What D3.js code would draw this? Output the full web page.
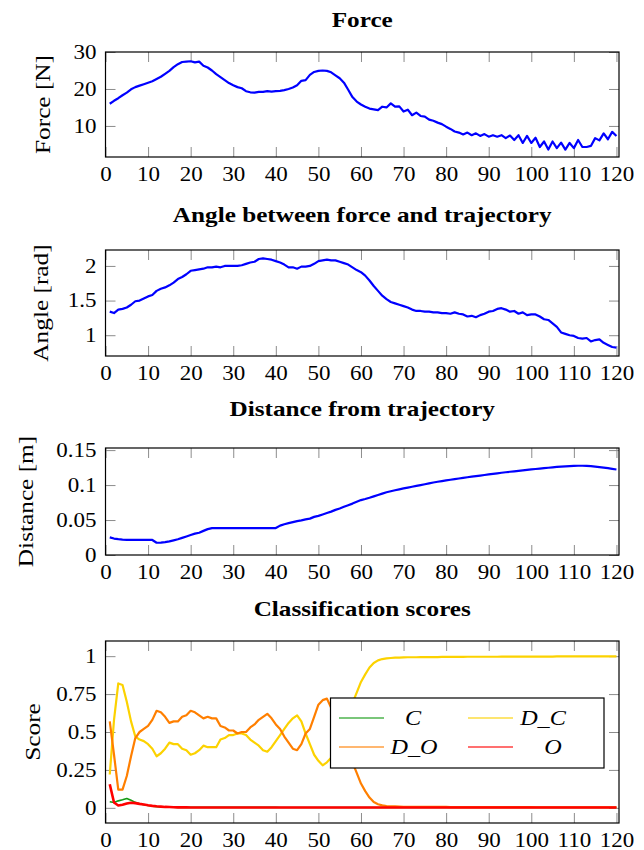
<!DOCTYPE html>
<html>
<head>
<meta charset="utf-8">
<script src="https://cdn.jsdelivr.net/npm/d3@7"></script>
<style>
  body { margin: 0; background: #fff; }
  svg text { font-family: "Liberation Serif", "Times New Roman", serif; fill: #000; }
</style>
</head>
<body>
<svg id="chart" width="644" height="850"></svg>
<script>
'use strict';

// time steps 1..120
var steps = d3.range(1, 121);
var xTicks = [0, 10, 20, 30, 40, 50, 60, 70, 80, 90, 100, 110, 120];

var forceTicks = [10, 20, 30];
var angleTicks = [1, 1.5, 2];
var distTicks = [0, 0.05, 0.1, 0.15];
var scoreTicks = [0, 0.25, 0.5, 0.75, 1];

var force = [
  16.0, 16.8, 17.5, 18.3, 19.0, 19.9, 20.5, 20.9, 21.3, 21.7,
  22.1, 22.7, 23.3, 24.1, 24.9, 25.9, 26.7, 27.3, 27.4, 27.5,
  27.2, 27.4, 26.3, 25.8, 25.0, 24.0, 23.2, 22.4, 21.6, 21.0,
  20.5, 20.2, 19.4, 19.1, 19.0, 19.2, 19.2, 19.4, 19.3, 19.4,
  19.5, 19.7, 20.0, 20.4, 21.0, 22.2, 22.4, 23.8, 24.6, 24.9,
  25.0, 24.9, 24.5, 23.7, 22.9, 21.7, 19.8, 17.8, 16.6, 15.8,
  15.2, 14.7, 14.5, 14.3, 15.2, 15.0, 16.1, 15.2, 15.3, 13.9,
  14.4, 12.9, 13.6, 12.7, 12.5, 11.7, 11.4, 10.9, 10.5, 9.8,
  9.2, 8.5, 8.2, 7.7, 8.2, 7.5, 8.0, 7.3, 7.8, 7.1,
  7.5, 7.1, 7.5, 6.7, 7.4, 6.2, 7.5, 5.4, 7.3, 5.4,
  6.8, 4.3, 5.8, 3.6, 5.8, 4.0, 5.5, 3.6, 5.4, 4.0,
  6.2, 4.3, 4.3, 4.6, 6.7, 6.1, 8.0, 6.4, 8.4, 7.3
];

var angle = [
  1.34, 1.32, 1.37, 1.38, 1.40, 1.44, 1.49, 1.50, 1.53, 1.56,
  1.58, 1.64, 1.67, 1.69, 1.72, 1.76, 1.81, 1.84, 1.88, 1.93,
  1.94, 1.95, 1.96, 1.98, 1.98, 1.99, 1.98, 2.00, 2.00, 2.00,
  2.00, 2.01, 2.03, 2.05, 2.06, 2.10, 2.11, 2.10, 2.09, 2.07,
  2.05, 2.02, 1.98, 1.98, 1.96, 1.99, 1.99, 2.00, 2.03, 2.07,
  2.08, 2.09, 2.08, 2.08, 2.06, 2.04, 2.02, 1.98, 1.94, 1.91,
  1.86, 1.79, 1.71, 1.64, 1.57, 1.52, 1.48, 1.46, 1.44, 1.42,
  1.40, 1.37, 1.35, 1.35, 1.34, 1.34, 1.33, 1.33, 1.32, 1.32,
  1.31, 1.33, 1.31, 1.30, 1.27, 1.28, 1.26, 1.29, 1.31, 1.34,
  1.35, 1.38, 1.39, 1.37, 1.34, 1.35, 1.31, 1.33, 1.29, 1.30,
  1.30, 1.27, 1.23, 1.22, 1.17, 1.12, 1.04, 1.02, 1.00, 0.99,
  0.96, 0.95, 0.96, 0.91, 0.93, 0.94, 0.89, 0.86, 0.83, 0.82
];

var distance = [
  0.0252, 0.0235, 0.0226, 0.0220, 0.0216, 0.0216, 0.0216, 0.0216, 0.0216, 0.0216,
  0.0215, 0.0175, 0.0178, 0.0185, 0.0195, 0.0210, 0.0225, 0.0245, 0.0265, 0.0285,
  0.0305, 0.0318, 0.0345, 0.0370, 0.0385, 0.0385, 0.0385, 0.0385, 0.0385, 0.0385,
  0.0385, 0.0385, 0.0385, 0.0385, 0.0385, 0.0385, 0.0385, 0.0385, 0.0385, 0.0385,
  0.0420, 0.0440, 0.0455, 0.0470, 0.0485, 0.0495, 0.0510, 0.0520, 0.0545, 0.0560,
  0.0580, 0.0600, 0.0620, 0.0645, 0.0665, 0.0690, 0.0712, 0.0735, 0.0760, 0.0785,
  0.0800, 0.0818, 0.0838, 0.0858, 0.0878, 0.0897, 0.0912, 0.0926, 0.0939, 0.0952,
  0.0964, 0.0976, 0.0988, 0.1000, 0.1012, 0.1024, 0.1037, 0.1047, 0.1057, 0.1066,
  0.1076, 0.1085, 0.1094, 0.1103, 0.1112, 0.1120, 0.1128, 0.1136, 0.1144, 0.1152,
  0.1160, 0.1168, 0.1176, 0.1183, 0.1190, 0.1197, 0.1204, 0.1211, 0.1218, 0.1224,
  0.1230, 0.1236, 0.1242, 0.1248, 0.1254, 0.1259, 0.1264, 0.1268, 0.1272, 0.1275,
  0.1276, 0.1276, 0.1274, 0.1270, 0.1264, 0.1257, 0.1249, 0.1241, 0.1232, 0.1223
];

var scoreC = [
  0.040, 0.035, 0.046, 0.053, 0.062, 0.050, 0.036, 0.027, 0.020, 0.015,
  0.011, 0.008, 0.006, 0.005, 0.004, 0.004, 0.003, 0.003, 0.003, 0.003,
  0.003, 0.003, 0.003, 0.003, 0.003, 0.003, 0.003, 0.003, 0.003, 0.003,
  0.003, 0.003, 0.003, 0.003, 0.003, 0.003, 0.003, 0.003, 0.003, 0.003,
  0.002, 0.002, 0.002, 0.002, 0.002, 0.002, 0.002, 0.002, 0.002, 0.002,
  0.002, 0.002, 0.002, 0.002, 0.002, 0.002, 0.002, 0.002, 0.002, 0.002,
  0.002, 0.002, 0.002, 0.002, 0.002, 0.002, 0.002, 0.002, 0.002, 0.002,
  0.002, 0.002, 0.002, 0.002, 0.002, 0.002, 0.002, 0.002, 0.002, 0.002,
  0.002, 0.002, 0.002, 0.002, 0.002, 0.002, 0.002, 0.002, 0.002, 0.002,
  0.002, 0.002, 0.002, 0.002, 0.002, 0.002, 0.002, 0.002, 0.002, 0.002,
  0.002, 0.002, 0.002, 0.002, 0.002, 0.002, 0.002, 0.002, 0.002, 0.002,
  0.002, 0.002, 0.002, 0.002, 0.002, 0.002, 0.002, 0.002, 0.002, 0.002
];

var scoreDC = [
  0.22, 0.58, 0.82, 0.81, 0.70, 0.57, 0.47, 0.45, 0.44, 0.42,
  0.39, 0.34, 0.36, 0.39, 0.43, 0.42, 0.42, 0.39, 0.38, 0.35,
  0.36, 0.38, 0.41, 0.40, 0.40, 0.40, 0.45, 0.46, 0.48, 0.48,
  0.49, 0.49, 0.48, 0.45, 0.43, 0.41, 0.38, 0.37, 0.40, 0.44,
  0.48, 0.52, 0.56, 0.59, 0.61, 0.57, 0.49, 0.42, 0.35, 0.31,
  0.28, 0.30, 0.33, 0.38, 0.45, 0.53, 0.61, 0.69, 0.76, 0.83,
  0.88, 0.925, 0.955, 0.972, 0.981, 0.985, 0.988, 0.990, 0.991, 0.992,
  0.993, 0.993, 0.993, 0.994, 0.994, 0.994, 0.994, 0.994, 0.995, 0.995,
  0.995, 0.995, 0.995, 0.995, 0.996, 0.996, 0.996, 0.996, 0.996, 0.996,
  0.996, 0.996, 0.997, 0.997, 0.997, 0.997, 0.997, 0.997, 0.997, 0.997,
  0.997, 0.997, 0.997, 0.997, 0.997, 0.998, 0.998, 0.998, 0.998, 0.998,
  0.998, 0.998, 0.998, 0.998, 0.998, 0.998, 0.998, 0.998, 0.998, 0.998
];

var scoreDO = [
  0.57, 0.35, 0.12, 0.12, 0.21, 0.34, 0.46, 0.50, 0.52, 0.54,
  0.58, 0.64, 0.63, 0.60, 0.56, 0.57, 0.57, 0.60, 0.61, 0.64,
  0.63, 0.61, 0.59, 0.60, 0.59, 0.59, 0.54, 0.53, 0.51, 0.51,
  0.49, 0.50, 0.50, 0.53, 0.55, 0.58, 0.60, 0.62, 0.59, 0.55,
  0.52, 0.47, 0.43, 0.39, 0.38, 0.42, 0.49, 0.52, 0.60, 0.68,
  0.71, 0.72, 0.66, 0.61, 0.54, 0.46, 0.38, 0.30, 0.23, 0.16,
  0.11, 0.068, 0.038, 0.024, 0.016, 0.012, 0.010, 0.009, 0.008, 0.007,
  0.006, 0.006, 0.006, 0.006, 0.006, 0.006, 0.006, 0.006, 0.006, 0.006,
  0.005, 0.005, 0.005, 0.005, 0.005, 0.005, 0.005, 0.005, 0.005, 0.005,
  0.005, 0.005, 0.005, 0.005, 0.005, 0.005, 0.005, 0.005, 0.005, 0.005,
  0.004, 0.004, 0.004, 0.004, 0.004, 0.004, 0.004, 0.004, 0.004, 0.004,
  0.004, 0.004, 0.004, 0.004, 0.004, 0.004, 0.004, 0.004, 0.004, 0.004
];

var scoreO = [
  0.155, 0.035, 0.015, 0.020, 0.028, 0.034, 0.031, 0.026, 0.022, 0.017,
  0.013, 0.010, 0.008, 0.006, 0.005, 0.004, 0.003, 0.003, 0.003, 0.002,
  0.002, 0.002, 0.002, 0.002, 0.002, 0.002, 0.002, 0.002, 0.002, 0.002,
  0.002, 0.002, 0.002, 0.002, 0.002, 0.002, 0.002, 0.002, 0.002, 0.002,
  0.002, 0.002, 0.002, 0.002, 0.002, 0.002, 0.002, 0.002, 0.002, 0.002,
  0.002, 0.002, 0.002, 0.002, 0.002, 0.002, 0.002, 0.002, 0.002, 0.002,
  0.002, 0.002, 0.002, 0.002, 0.002, 0.002, 0.002, 0.002, 0.002, 0.002,
  0.002, 0.002, 0.002, 0.002, 0.002, 0.002, 0.002, 0.002, 0.002, 0.002,
  0.002, 0.002, 0.002, 0.002, 0.002, 0.002, 0.002, 0.002, 0.002, 0.002,
  0.002, 0.002, 0.002, 0.002, 0.002, 0.002, 0.002, 0.002, 0.002, 0.002,
  0.002, 0.002, 0.002, 0.002, 0.002, 0.002, 0.002, 0.002, 0.002, 0.002,
  0.002, 0.002, 0.002, 0.002, 0.002, 0.002, 0.002, 0.002, 0.002, 0.002
];

var seriesNames = ["C", "D_C", "D_O", "O"];
var seriesColors = ["#139a13", "#fcd200", "#ff7f00", "#ff0000"];
var seriesValues = [scoreC, scoreDC, scoreDO, scoreO];

// ---- layout ----
var L = 105.5, R = 619;
var svg = d3.select("#chart");
var x = d3.scaleLinear().domain([0, 120.6]).range([L, R]);

// widen the Times-like glyphs toward the Computer Modern look of the original
function stretch(sel, k) {
  sel.each(function () {
    var w = this.getComputedTextLength();
    d3.select(this).attr("textLength", w * k).attr("lengthAdjust", "spacingAndGlyphs");
  });
}

function drawPanel(p) {
  var y = d3.scaleLinear().domain(p.domain).range([p.bottom, p.top]);
  var g = svg.append("g");

  g.append("g").attr("transform", "translate(0," + p.bottom + ")")
    .call(d3.axisBottom(x).tickValues(xTicks).tickSizeInner(-10).tickSizeOuter(0).tickPadding(10));
  g.append("g").attr("transform", "translate(0," + p.top + ")")
    .call(d3.axisTop(x).tickValues(xTicks).tickFormat("").tickSizeInner(-10).tickSizeOuter(0));
  g.append("g").attr("transform", "translate(" + L + ",0)")
    .call(d3.axisLeft(y).tickValues(p.ticks).tickFormat(function (d) { return String(d); })
      .tickSizeInner(-10).tickSizeOuter(0).tickPadding(9));
  g.append("g").attr("transform", "translate(" + R + ",0)")
    .call(d3.axisRight(y).tickValues(p.ticks).tickFormat("").tickSizeInner(-10).tickSizeOuter(0));

  g.selectAll(".domain").remove();
  g.selectAll(".tick line").attr("stroke", "#8c8c8c").attr("stroke-width", 1);
  g.selectAll(".tick text")
    .attr("font-family", "Liberation Serif, serif")
    .attr("font-size", 20)
    .call(stretch, 1.15);

  var line = d3.line()
    .x(function (d, i) { return x(steps[i]); })
    .y(function (d) { return y(d); });

  p.series.forEach(function (s) {
    g.append("path")
      .datum(s.values)
      .attr("d", line)
      .attr("fill", "none")
      .attr("stroke", s.color)
      .attr("stroke-width", s.width)
      .attr("stroke-linejoin", "round");
  });

  g.append("rect")
    .attr("x", L).attr("y", p.top)
    .attr("width", R - L).attr("height", p.bottom - p.top)
    .attr("fill", "none").attr("stroke", "#000").attr("stroke-width", 1.2);

  g.append("text")
    .attr("x", (L + R) / 2).attr("y", p.titleY)
    .attr("text-anchor", "middle")
    .attr("font-weight", "bold")
    .attr("font-size", 21)
    .text(p.title)
    .call(stretch, 1.2);

  g.append("text")
    .attr("transform", "translate(" + p.labelX + "," + ((p.top + p.bottom) / 2) + ") rotate(-90)")
    .attr("text-anchor", "middle")
    .attr("font-size", 22)
    .text(p.ylabel)
    .call(stretch, 1.15);

  return { g: g, y: y };
}

drawPanel({
  title: "Force", ylabel: "Force [N]", domain: [1.6, 30], ticks: forceTicks,
  top: 52, bottom: 157, titleY: 27, labelX: 50,
  series: [{ values: force, color: "#0000ff", width: 2.2 }]
});

drawPanel({
  title: "Angle between force and trajectory", ylabel: "Angle [rad]", domain: [0.70, 2.23], ticks: angleTicks,
  top: 250, bottom: 356, titleY: 222, labelX: 48,
  series: [{ values: angle, color: "#0000ff", width: 2.2 }]
});

drawPanel({
  title: "Distance from trajectory", ylabel: "Distance [m]", domain: [0, 0.153], ticks: distTicks,
  top: 448, bottom: 555, titleY: 416, labelX: 33,
  series: [{ values: distance, color: "#0000ff", width: 2.2 }]
});

var scorePanel = drawPanel({
  title: "Classification scores", ylabel: "Score", domain: [-0.1, 1.1], ticks: scoreTicks,
  top: 641, bottom: 823, titleY: 616, labelX: 40,
  series: seriesValues.map(function (v, i) {
    return { values: v, color: seriesColors[i], width: i === 0 ? 1.6 : (i === 3 ? 2.6 : 2.2) };
  })
});

// legend, two columns
var legendBox = { x: 330.5, y: 698, w: 273.5, h: 70 };
var legendCells = [
  { lx: 339, tx: 413, ty: 718 },
  { lx: 468, tx: 543, ty: 718 },
  { lx: 339, tx: 414, ty: 747 },
  { lx: 468, tx: 553, ty: 747 }
];
var lg = scorePanel.g.append("g");
lg.append("rect")
  .attr("x", legendBox.x).attr("y", legendBox.y)
  .attr("width", legendBox.w).attr("height", legendBox.h)
  .attr("fill", "#fff").attr("stroke", "#000").attr("stroke-width", 1.2);

seriesNames.forEach(function (name, i) {
  var c = legendCells[i];
  lg.append("line")
    .attr("x1", c.lx).attr("x2", c.lx + 45)
    .attr("y1", c.ty).attr("y2", c.ty)
    .attr("stroke", seriesColors[i]).attr("stroke-width", 1.4)
    .attr("stroke-opacity", 0.75);
  lg.append("text")
    .attr("x", c.tx).attr("y", c.ty + 7)
    .attr("text-anchor", "middle")
    .attr("font-style", "italic")
    .attr("font-size", 22)
    .text(name)
    .call(stretch, 1.1);
});
</script>
</body>
</html>
